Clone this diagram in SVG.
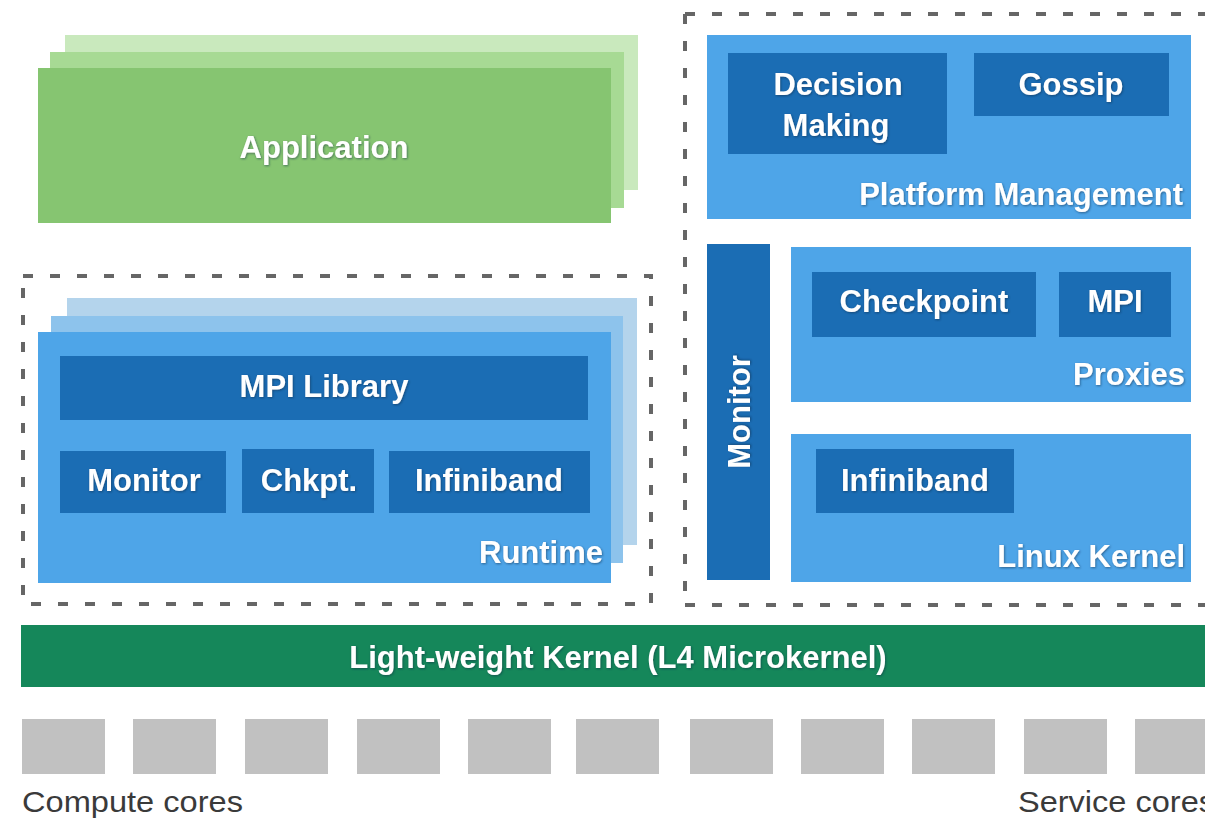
<svg xmlns="http://www.w3.org/2000/svg" width="1205" height="819" viewBox="0 0 1205 819">
  <defs>
    <filter id="txtShadow" x="-10%" y="-30%" width="120%" height="160%">
      <feDropShadow dx="0.8" dy="1" stdDeviation="0.9" flood-color="#0b2a45" flood-opacity="0.55"/>
    </filter>
  </defs>
  <style>
    .lbl { font-family: "Liberation Sans", Arial, sans-serif; font-weight: bold; font-size: 31px; fill: #ffffff; filter: url(#txtShadow); }
    .mid { text-anchor: middle; }
    .end { text-anchor: end; }
    .cap { font-family: "Liberation Sans", Arial, sans-serif; font-size: 30px; fill: #3a3a3a; }
    .dash { fill: none; stroke: #666666; stroke-width: 4; stroke-dasharray: 10 17; }
    .mblue { fill: #4ea5e8; }
    .dblue { fill: #1b6db4; }
    .core { fill: #c1c1c1; }
  </style>
  <rect width="1205" height="819" fill="#ffffff"/>

  <!-- dashed grouping frames -->
  <g id="frames">
    <path class="dash" d="M685 14 H1205 M685 14 V605 M685 605 H1205"/>
    <rect class="dash" x="23" y="276" width="628" height="328"/>
  </g>

  <!-- Application (stacked instances) -->
  <g id="application">
    <rect x="65" y="35" width="573" height="155" fill="#c9e9bd"/>
    <rect x="50" y="52" width="574" height="156" fill="#a7da94"/>
    <rect x="38" y="68" width="573" height="155" fill="#86c571"/>
    <text class="lbl mid" x="324" y="158">Application</text>
  </g>

  <!-- Platform Management -->
  <g id="platform-management">
    <rect class="mblue" x="707" y="35" width="484" height="184"/>
    <text class="lbl end" x="1183" y="205">Platform Management</text>
  </g>
  <g id="decision-making">
    <rect class="dblue" x="728" y="53" width="219" height="101"/>
    <text class="lbl mid" x="838" y="95">Decision</text>
    <text class="lbl mid" x="836" y="136">Making</text>
  </g>
  <g id="gossip">
    <rect class="dblue" x="974" y="53" width="195" height="63"/>
    <text class="lbl mid" x="1071" y="95">Gossip</text>
  </g>

  <!-- Service-side Monitor -->
  <g id="service-monitor">
    <rect class="dblue" x="707" y="244" width="63" height="336"/>
    <text class="lbl mid" transform="translate(750 412) rotate(-90)" x="0" y="0">Monitor</text>
  </g>

  <!-- Proxies -->
  <g id="proxies">
    <rect class="mblue" x="791" y="247" width="400" height="155"/>
    <text class="lbl end" x="1185" y="385">Proxies</text>
  </g>
  <g id="proxy-checkpoint">
    <rect class="dblue" x="812" y="272" width="224" height="65"/>
    <text class="lbl mid" x="924" y="312">Checkpoint</text>
  </g>
  <g id="proxy-mpi">
    <rect class="dblue" x="1059" y="272" width="112" height="65"/>
    <text class="lbl mid" x="1115" y="312">MPI</text>
  </g>

  <!-- Linux Kernel -->
  <g id="linux-kernel">
    <rect class="mblue" x="791" y="434" width="400" height="148"/>
    <text class="lbl end" x="1185" y="567">Linux Kernel</text>
  </g>
  <g id="linux-infiniband">
    <rect class="dblue" x="816" y="449" width="198" height="64"/>
    <text class="lbl mid" x="915" y="491">Infiniband</text>
  </g>

  <!-- Runtime (stacked instances) -->
  <g id="runtime">
    <rect x="67" y="298" width="570" height="247" fill="#b4d4ec"/>
    <rect x="51" y="316" width="572" height="247" fill="#8dc3ec"/>
    <rect class="mblue" x="38" y="332" width="573" height="251"/>
    <text class="lbl end" x="603" y="563">Runtime</text>
  </g>
  <g id="mpi-library">
    <rect class="dblue" x="60" y="356" width="528" height="64"/>
    <text class="lbl mid" x="324" y="397">MPI Library</text>
  </g>
  <g id="runtime-monitor">
    <rect class="dblue" x="60" y="451" width="166" height="62"/>
    <text class="lbl mid" x="144" y="491">Monitor</text>
  </g>
  <g id="runtime-chkpt">
    <rect class="dblue" x="242" y="449" width="132" height="64"/>
    <text class="lbl mid" x="309" y="491">Chkpt.</text>
  </g>
  <g id="runtime-infiniband">
    <rect class="dblue" x="389" y="451" width="201" height="62"/>
    <text class="lbl mid" x="489" y="491">Infiniband</text>
  </g>

  <!-- Light-weight kernel bar -->
  <g id="lwk">
    <rect x="21" y="625" width="1184" height="62" fill="#15875a"/>
    <text class="lbl mid" x="618" y="668">Light-weight Kernel (L4 Microkernel)</text>
  </g>

  <!-- Hardware cores -->
  <g id="cores">
    <rect class="core" x="22" y="719" width="83" height="55"/>
    <rect class="core" x="133" y="719" width="83" height="55"/>
    <rect class="core" x="245" y="719" width="83" height="55"/>
    <rect class="core" x="357" y="719" width="83" height="55"/>
    <rect class="core" x="468" y="719" width="83" height="55"/>
    <rect class="core" x="576" y="719" width="83" height="55"/>
    <rect class="core" x="690" y="719" width="83" height="55"/>
    <rect class="core" x="801" y="719" width="83" height="55"/>
    <rect class="core" x="912" y="719" width="83" height="55"/>
    <rect class="core" x="1024" y="719" width="83" height="55"/>
    <rect class="core" x="1135" y="719" width="83" height="55"/>
  </g>
  <g id="core-labels">
    <text class="cap" x="22" y="812" textLength="221" lengthAdjust="spacingAndGlyphs">Compute cores</text>
    <text class="cap" x="1018" y="812" textLength="197" lengthAdjust="spacingAndGlyphs">Service cores</text>
  </g>
</svg>
